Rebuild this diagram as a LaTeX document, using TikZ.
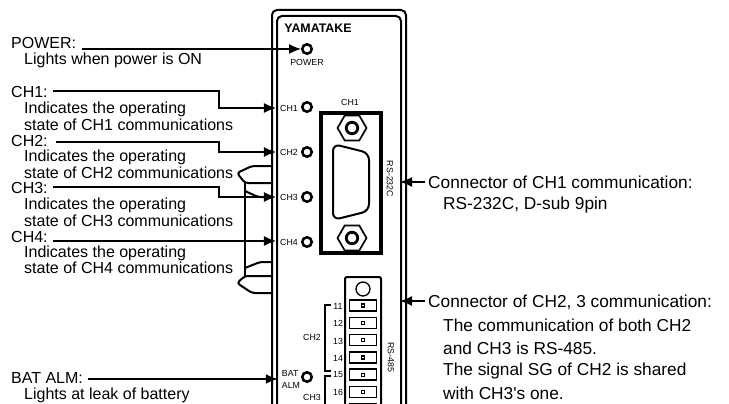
\documentclass[tikz,border=0pt]{standalone}
\usepackage{fontspec}
\setmainfont{Liberation Sans}
\usetikzlibrary{arrows.meta,shapes.geometric}

\tikzset{
    maintext/.style={anchor=west, inner sep=0pt, font=\fontsize{16}{18}\selectfont},
    sidetext/.style={anchor=west, inner sep=0pt, font=\fontsize{17.3}{19}\selectfont},
    smalltext/.style={inner sep=0pt, font=\fontsize{8.8}{12}\selectfont},
    arrowline/.style={line width=1.4pt, -{Latex[length=12pt,width=10pt]}},
    led/.style={circle, draw, line width=2.5pt, minimum size=9.5pt, inner sep=0pt},
    frameline/.style={line width=2pt, rounded corners=5pt},
    cable/.style={line width=2pt, rounded corners=3pt},
    nut/.style={regular polygon, regular polygon sides=6, draw, line width=1.7pt, minimum size=29pt, inner sep=0pt},
    nuthole/.style={circle, draw, line width=2.8pt, minimum size=11.5pt, inner sep=0pt},
    cell/.style={draw, line width=1.5pt, minimum width=27pt, minimum height=11pt, inner sep=0pt},
    pinhole/.style={draw, line width=1.2pt, minimum size=3pt, inner sep=0pt},
}

\begin{document}
\begin{tikzpicture}[x=1pt,y=-1pt]
    \useasboundingbox (0,0) rectangle (729,404);

    % Housing
    \draw[frameline] (272,410) -- (272,10) -- (406,10) -- (406,410);
    \draw[frameline] (277,410) -- (277,16) -- (401,16) -- (401,410);
    \node[inner sep=0pt, font=\fontsize{12.4}{14}\bfseries\selectfont] (Logo) at (318,28) {YAMATAKE};

    % LEDs and their labels
    \node[led] (LedPower) at (307,49) {};
    \node[led] (LedCHone) at (307,107) {};
    \node[led] (LedCHtwo) at (307,152) {};
    \node[led] (LedCHthree) at (307,197) {};
    \node[led] (LedCHfour) at (307,242) {};
    \node[led] (LedBat) at (307,377) {};
    \node[smalltext] (LabelPower) at (307,62) {POWER};
    \node[smalltext] (LabelCHone) at (289,108) {CH1};
    \node[smalltext] (LabelCHtwo) at (289,152) {CH2};
    \node[smalltext] (LabelCHthree) at (289,197) {CH3};
    \node[smalltext] (LabelCHfour) at (289,242) {CH4};
    \node[smalltext, align=left] (LabelBat) at (291,379) {BAT\\ALM};

    % D-sub connector
    \draw[line width=3.4pt] (321,113) rectangle (381,253);
    \node[smalltext] (LabelConn) at (350,102) {CH1};
    \node[smalltext, rotate=-90] (LabelRSone) at (390,179) {RS-232C};
    \draw[line width=2pt, rounded corners=7pt] (333,144) -- (369,153) -- (369,211) -- (333,220) -- cycle;
    \node[nut] (NutTop) at (352,128) {};
    \node[nuthole] at (NutTop) {};
    \node[nut] (NutBottom) at (352,238) {};
    \node[nuthole] at (NutBottom) {};

    % Terminal block
    \draw[line width=2pt, rounded corners=2pt] (345,410) -- (345,277) -- (381,277) -- (381,410);
    \node[circle, draw, line width=1.3pt, minimum size=14pt, inner sep=0pt] (BlockHole) at (363,289) {};
    \node[cell] (CellA) at (363,305.5) {};
    \node[cell] (CellB) at (363,322.8) {};
    \node[cell] (CellC) at (363,340.1) {};
    \node[cell] (CellD) at (363,357.4) {};
    \node[cell] (CellE) at (363,374.7) {};
    \node[cell] (CellF) at (363,392) {};
    \node[cell] (CellG) at (363,409.3) {};
    \node[pinhole] at (CellA) {};
    \node[pinhole] at (CellB) {};
    \node[pinhole] at (CellC) {};
    \node[pinhole] at (CellD) {};
    \node[pinhole] at (CellE) {};
    \node[pinhole] at (CellF) {};
    \node[smalltext] (NumA) at (338,306) {11};
    \node[smalltext] (NumB) at (338,323) {12};
    \node[smalltext] (NumC) at (338,341) {13};
    \node[smalltext] (NumD) at (338,358) {14};
    \node[smalltext] (NumE) at (338,375) {15};
    \node[smalltext] (NumF) at (338,392) {16};
    \node[smalltext] (LabelGroupA) at (312,337) {CH2};
    \node[smalltext] (LabelGroupB) at (312,397) {CH3};
    \node[smalltext, rotate=-90] (LabelRStwo) at (391,357) {RS-485};
    \draw[line width=1.7pt] (331,305) -- (325,305) -- (325,371) -- (331,371);
    \draw[line width=1.7pt] (331,376) -- (325,376) -- (325,410);

    % Cable behind the housing
    \draw[cable] (272,166) -- (252,166) -- (237,173) -- (245,183) -- (272,183);
    \draw[cable] (272,276) -- (245,276) -- (237,283) -- (252,293) -- (272,293);
    \draw[line width=2.2pt] (245,183) -- (245,276);
    \draw[cable] (245,191) -- (258,197) -- (266,197);
    \draw[cable] (245,268) -- (260,262) -- (272,262);

    % Texts on the left
    \node[maintext] (TextPower) at (11,43) {POWER:};
    \node[maintext] (TextPowerA) at (24,60) {Lights when power is ON};
    \node[maintext] (TextCHone) at (11,92) {CH1:};
    \node[maintext] (TextCHoneA) at (24,109) {Indicates the operating};
    \node[maintext] (TextCHoneB) at (24,125) {state of CH1 communications};
    \node[maintext] (TextCHtwo) at (11,141) {CH2:};
    \node[maintext] (TextCHtwoA) at (24,157) {Indicates the operating};
    \node[maintext] (TextCHtwoB) at (24,173) {state of CH2 communications};
    \node[maintext] (TextCHthree) at (11,188) {CH3:};
    \node[maintext] (TextCHthreeA) at (24,205) {Indicates the operating};
    \node[maintext] (TextCHthreeB) at (24,221) {state of CH3 communications};
    \node[maintext] (TextCHfour) at (11,237) {CH4:};
    \node[maintext] (TextCHfourA) at (24,253) {Indicates the operating};
    \node[maintext] (TextCHfourB) at (24,268) {state of CH4 communications};
    \node[maintext] (TextBat) at (11,378) {BAT ALM:};
    \node[maintext] (TextBatA) at (24,395) {Lights at leak of battery};

    % Texts on the right
    \node[sidetext] (TextConnA) at (428,182) {Connector of CH1 communication:};
    \node[sidetext] (TextConnAa) at (443,205) {RS-232C, D-sub 9pin};
    \node[sidetext] (TextConnB) at (428,302) {Connector of CH2, 3 communication:};
    \node[sidetext] (TextConnBa) at (443,325) {The communication of both CH2};
    \node[sidetext] (TextConnBb) at (443,348) {and CH3 is RS-485.};
    \node[sidetext] (TextConnBc) at (443,371) {The signal SG of CH2 is shared};
    \node[sidetext] (TextConnBd) at (443,393) {with CH3\textquotesingle s one.};

    % Free ends of the arrows
    \coordinate (StartPower) at (82,49);
    \coordinate (StartCHone) at (53,91);
    \coordinate (StartCHtwo) at (56,142);
    \coordinate (StartCHthree) at (53,187);
    \coordinate (StartCHfour) at (53,241);
    \coordinate (StartBat) at (88,379);
    \coordinate (TipConnA) at (400,182);
    \coordinate (TipConnB) at (400,301);

    % Arrows
    \draw[arrowline] (StartPower) -- (LedPower);
    \draw[arrowline] (StartCHone) -- ++(166,0) |- ([xshift=-4pt]LabelCHone.west);
    \draw[arrowline] (StartCHtwo) -- ++(163,0) |- ([xshift=-4pt]LabelCHtwo.west);
    \draw[arrowline] (StartCHthree) -- ++(166,0) |- ([xshift=-4pt]LabelCHthree.west);
    \draw[arrowline] (StartCHfour) -- ([xshift=-4pt,yshift=1pt]LabelCHfour.west);
    \draw[arrowline] (StartBat) -- ([xshift=-4pt]LabelBat.west);
    \draw[arrowline] ([xshift=-3pt]TextConnA.west) -- (TipConnA);
    \draw[arrowline] ([xshift=-3pt,yshift=1pt]TextConnB.west) -- (TipConnB);
\end{tikzpicture}
\end{document}
